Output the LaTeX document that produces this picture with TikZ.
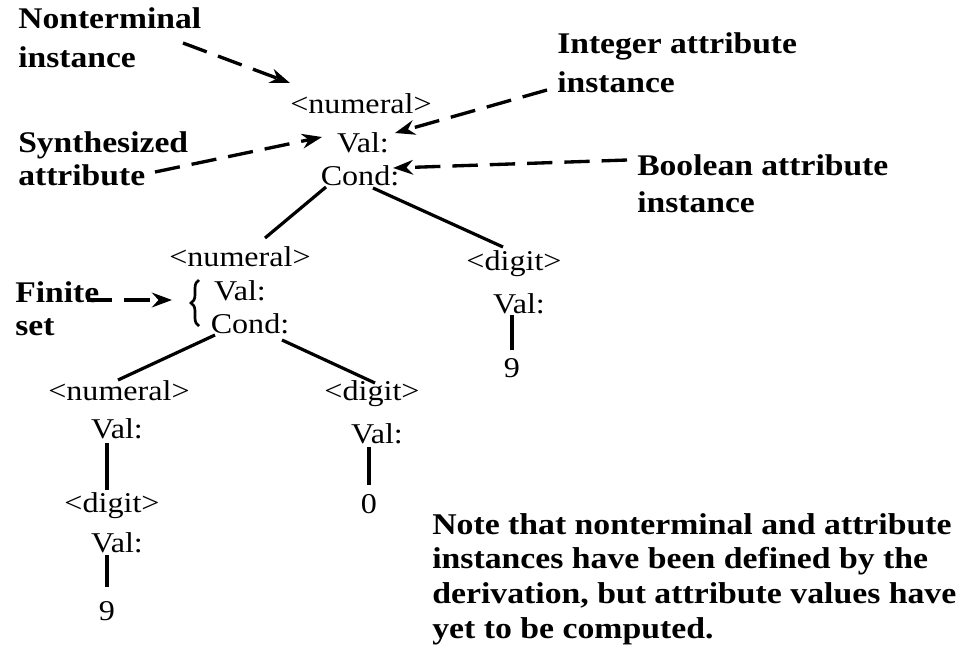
\documentclass[tikz,border=0pt]{standalone}
\usepackage{fontspec}
\setmainfont{Liberation Serif}[FakeStretch=1.12]
\usetikzlibrary{arrows.meta,decorations.pathreplacing}
\tikzset{t/.style={anchor=base,inner sep=0pt,font=\fontsize{21.5}{21.5}\selectfont},lb/.style={anchor=base west,inner sep=0pt,font=\bfseries\fontsize{22.5}{22.5}\selectfont},
ed/.style={line width=2.4pt},arr/.style={-{Stealth[length=15pt,width=11pt]},line width=2.5pt,dash pattern=on 19pt off 9pt}}

\begin{document}
\begin{tikzpicture}[x=0.75pt,y=-0.75pt]
\useasboundingbox(0,0)rectangle(963,662);
% tree
\node[t](r)at(361,113){<numeral>};\node[t](rv)at(363,152){Val:};\node[t](rc)at(360,185){Cond:};
\node[t](a)at(240,266){<numeral>};\node[t](av)at(240,300){Val:};\node[t](ac)at(250,333){Cond:};
\node[t](b)at(514,270){<digit>};\node[t](bv)at(519,313){Val:};\node[t](b9)at(512,377){9};
\node[t](c)at(119,400){<numeral>};\node[t](cv)at(117,438){Val:};
\node[t](cd)at(112,512){<digit>};\node[t](cdv)at(117,552){Val:};\node[t](c9)at(107,620){9};
\node[t](d)at(372,400){<digit>};\node[t](dv)at(377,443){Val:};\node[t](d0)at(369,513){0};
\draw[ed](326,187)--(265,238);\draw[ed](373,188)--(503,247);
\draw[ed](215,335)--(118,380);\draw[ed](282,340)--(375,383);
\draw[ed](107,443)--(107,490);\draw[ed](107,555)--(107,587);
\draw[ed](369,447)--(369,485);\draw[ed](512,315)--(512,350);
\draw[line width=2pt,decorate,decoration={brace,amplitude=6pt}](199,326)--(199,280);
% labels
\node[lb](nt)at(18,28){Nonterminal};\node[lb](nt2)at(18,67){instance};
\node[lb](sy)at(18,152){Synthesized};\node[lb](sy2)at(18,185){attribute};
\node[lb](ia)at(557,53){Integer attribute};\node[lb](ia2)at(557,92){instance};
\node[lb](ba)at(637,175){Boolean attribute};\node[lb](ba2)at(637,212){instance};
\node[lb](fs)at(15,302){Finite};\node[lb](fs2)at(15,335){set};
\node[lb,align=left,anchor=north west,font=\bfseries\fontsize{22.6}{26}\selectfont](note)at(432,513){Note that nonterminal and attribute\\instances have been defined by the\\derivation, but attribute values have\\yet to be computed.};
\draw[arr](183,43)--(290,83);\draw[arr](155,172)--(322,137);
\draw[arr](547,90)--(395,133);\draw[arr](627,160)--(393,168);
\draw[arr](87,300)--(172,300);
\end{tikzpicture}
\end{document}
